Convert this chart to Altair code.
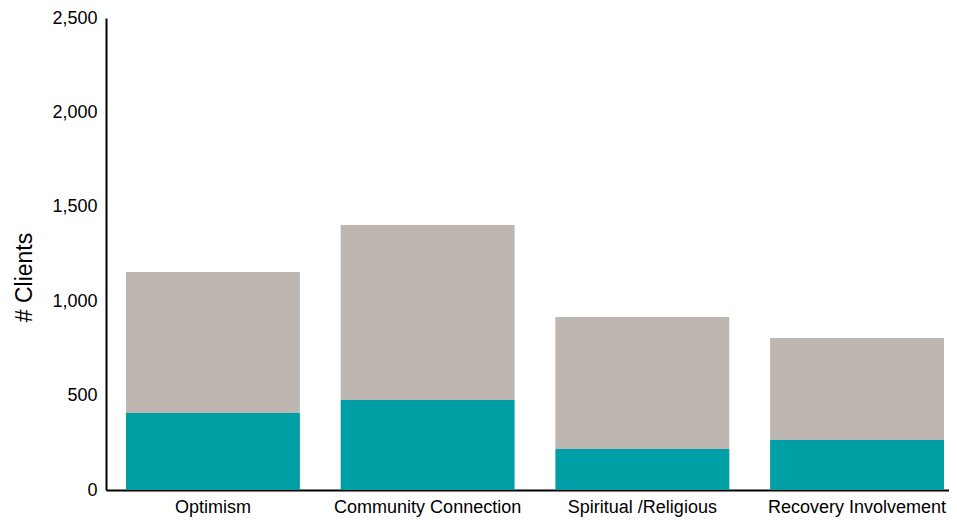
import altair as alt
import pandas as pd

categories = ["Optimism", "Community Connection", "Spiritual /Religious", "Recovery Involvement"]
teal_values = [408, 477, 217, 265]
total_values = [1155, 1404, 916, 805]
series_names = ["Teal", "Gray"]

rows = []
for i, c in enumerate(categories):
    rows.append({"category": c, "series": series_names[0], "value": teal_values[i], "order": 0})
    rows.append({"category": c, "series": series_names[1], "value": total_values[i] - teal_values[i], "order": 1})
df = pd.DataFrame(rows)

font = "Liberation Sans"

chart = alt.Chart(df).mark_bar().encode(
    x=alt.X("category:N", sort=categories,
            scale=alt.Scale(range=[0, 858], paddingInner=0.19, paddingOuter=0.093),
            axis=alt.Axis(title=None, labelAngle=0, labelFontSize=18, labelFont=font,
                          labelColor="#000", ticks=False, domainColor="#000", domainWidth=2,
                          labelPadding=8, labelLimit=400)),
    y=alt.Y("value:Q", stack="zero",
            scale=alt.Scale(domain=[0, 2500]),
            axis=alt.Axis(title="# Clients", values=[0, 500, 1000, 1500, 2000, 2500], format=",.0f",
                          grid=False, ticks=False, labelFontSize=18, labelFont=font, labelColor="#000",
                          domainColor="#000", domainWidth=2, labelPadding=9,
                          titleFontSize=23, titleFont=font, titleFontWeight="normal", titleColor="#000",
                          titleAngle=270, titleX=-82, titleY=259, titleAlign="center", titleBaseline="middle")),
    color=alt.Color("series:N", scale=alt.Scale(domain=series_names, range=["#009EA5", "#BEB6B0"]), legend=None),
    order=alt.Order("order:Q"),
).properties(
    width=843, height=472,
    autosize=alt.AutoSizeParams(type="none"),
    padding={"left": 98, "top": 10, "right": 0, "bottom": 30},
).configure_view(stroke=None)

chart.save("out.html", embed_options={"renderer": "svg", "actions": False})
